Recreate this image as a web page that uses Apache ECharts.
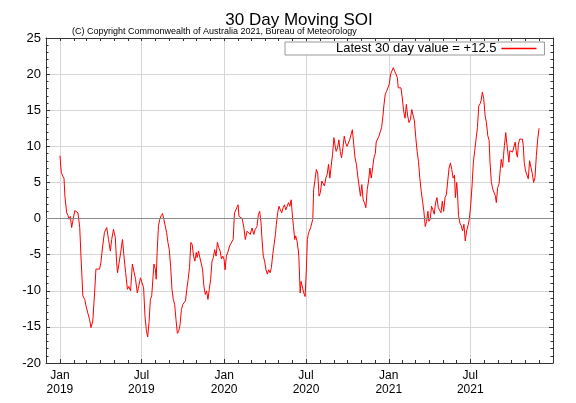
<!DOCTYPE html>
<html><head><meta charset="utf-8">
<script src="https://cdn.jsdelivr.net/npm/echarts@6/dist/echarts.min.js"></script>
<style>html,body{margin:0;padding:0;background:#fff}#c{width:576px;height:403px}</style>
</head><body><div id="c"></div>
<script>
// Days since 2019-01-01 and the 30-day moving SOI
const dayOffsets = [0,3,6,9,11,15,18,20,23,26,29,33,36,40,44,47,51,55,58,62,66,69,73,77,80,84,88,91,95,99,102,104,108,112,115,119,123,126,128,131,135,139,142,146,150,153,157,161,164,168,172,175,179,
182,186,189,192,195,198,201,204,207,209,212,214,216,219,222,225,228,231,234,237,240,243,246,249,252,255,258,261,264,267,270,273,276,279,282,285,288,291,294,297,300,303,305,308,311,314,317,320,323,326,329,332,335,338,341,344,347,350,353,356,359,362,
365,367,370,374,377,381,385,388,391,393,396,398,401,405,409,412,416,420,423,427,431,434,438,441,444,447,449,452,455,458,461,464,467,470,473,476,479,481,484,487,490,493,496,499,502,505,508,511,514,516,519,522,524,527,530,
531,534,536,539,542,545,548,550,552,554,557,560,562,564,567,570,573,576,579,582,585,588,591,594,597,600,603,606,609,612,614,617,620,623,626,629,632,635,638,641,644,647,650,653,656,659,662,665,668,671,674,677,680,683,686,689,692,695,698,701,703,706,709,712,715,718,
720,723,726,729,732,735,738,741,744,747,750,752,755,758,761,764,767,770,773,776,779,782,785,788,791,794,797,800,803,806,809,812,815,818,820,823,826,829,832,835,838,841,844,847,850,853,856,859,862,865,868,871,874,877,
879,882,884,886,889,892,895,898,901,904,907,910,913,916,919,922,925,928,931,934,936,939,942,945,948,951,954,956,959,962,965,968,970,973,976,979,981,984,986,988,991,993,996,998,1000,1003,1006,1009,1012,1015,1017,1019,1022,1025,1028,1030,1032,1035,1038,1041,1044,1047,1050,1053,1056,1059,1062,1065];
const soiValues = [8.7,6.4,5.9,5.6,3.1,0.8,0.4,-0.1,0.3,-1.25,-1.1,1.1,1.2,0.8,-1.25,-5.6,-10.7,-11.2,-12.1,-13.1,-14.0,-15.1,-14.2,-10.3,-7.0,-6.8,-7.0,-6.1,-3.8,-1.9,-1.7,-1.25,-2.9,-4.5,-2.9,-1.5,-2.6,-6.1,-7.5,-6.3,-4.7,-2.9,-5.0,-7.5,-9.8,-9.4,-10.0,-6.3,-6.1,-8.4,-10.3,-9.4,-8.2,
-8.4,-9.6,-13.5,-15.4,-16.4,-14.4,-11.2,-10.7,-8.0,-6.3,-7.0,-8.4,-4.7,-1.0,-0.1,0.4,0.7,-0.1,-1.0,-1.9,-3.3,-4.3,-6.6,-9.8,-11.2,-11.9,-14.0,-15.9,-15.6,-14.7,-12.6,-11.9,-12.1,-11.4,-9.8,-8.4,-6.8,-3.3,-3.6,-5.2,-5.9,-4.7,-5.4,-4.5,-5.4,-5.6,-7.0,-9.35,-10.5,-10.0,-11.2,-9.8,-8.4,-5.9,-5.4,-4.3,-5.2,-3.3,-4.0,-4.5,-5.6,-5.2,
-5.7,-7.1,-5.2,-4.5,-3.8,-3.6,-2.9,0.8,1.2,1.5,1.9,0.3,0.1,0.0,-1.3,-2.9,-1.75,-1.5,-2.2,-1.3,-2.2,-1.5,-1.1,0.55,1.0,-0.6,-2.7,-5.2,-5.9,-7.1,-7.7,-7.1,-7.5,-6.8,-5.0,-3.6,-2.2,-0.8,0.8,1.7,1.2,0.8,1.5,1.9,1.2,1.7,2.2,1.7,2.6,1.0,-1.1,-2.9,-2.4,-3.1,-4.5,
-5.2,-10.3,-8.7,-8.9,-10.3,-10.8,-6.6,-2.9,-2.2,-1.75,-1.3,-1.5,-0.1,4.0,5.4,6.8,6.3,3.1,3.6,5.2,5.4,4.5,5.6,6.1,7.5,5.6,7.3,8.9,11.2,10.0,9.3,9.8,10.9,9.3,8.4,9.8,11.4,10.5,10.0,9.8,10.9,11.6,12.3,10.3,8.4,7.5,5.9,4.5,3.1,4.7,2.6,2.2,1.5,4.0,5.2,7.0,5.6,7.0,8.4,9.0,10.6,10.5,11.4,11.2,12.6,14.2,
15.6,17.2,17.6,17.6,18.6,20.0,20.2,20.9,20.4,20.0,19.5,18.1,18.3,18.1,16.7,14.9,13.9,15.8,14.2,13.3,13.7,15.1,15.3,13.5,11.2,9.3,7.9,5.6,3.8,2.4,1.0,-1.1,-0.4,1.0,-0.4,-0.1,1.7,1.2,0.6,2.2,2.9,1.5,1.7,0.8,2.4,1.0,2.9,3.3,5.2,7.0,7.7,6.8,5.6,6.0,
2.9,5.0,3.1,0.4,-0.6,-1.0,-1.7,-0.8,-3.1,-1.7,-1.0,-0.1,1.8,4.5,7.8,9.4,11.0,12.6,15.6,15.9,16.3,17.5,16.6,14.3,13.3,11.5,10.8,7.8,5.0,4.1,4.3,3.1,2.2,4.3,4.8,6.9,8.2,7.1,8.7,10.1,11.9,10.6,10.8,7.8,9.4,9.6,9.2,9.4,10.6,8.9,8.5,10.3,11.0,10.8,11.0,10.1,7.8,6.6,6.4,5.5,8.0,8.2,6.2,5.0,5.7,8.7,11.0,12.5];

const seriesStart = '2019-01-01';
const axisStart = '2018-12-01';
const axisEnd = '2022-01-01';
const tickDates = ['2019-01-01','2019-07-01','2020-01-01','2020-07-01','2021-01-01','2021-07-01'];
const tickLabels = ['Jan\n2019','Jul\n2019','Jan\n2020','Jul\n2020','Jan\n2021','Jul\n2021'];
const yTicks = [-20, 25, 5];
const chartTitle = '30 Day Moving SOI';
const copyright = '(C) Copyright Commonwealth of Australia 2021, Bureau of Meteorology';
const latestLabel = 'Latest 30 day value = +12.5';

const DAY = 86400000;
function ms(s){ const p = s.split('-'); return Date.UTC(+p[0], +p[1]-1, +p[2]); }
const base = ms(seriesStart);
function toDay(s){ return Math.round((ms(s) - base) / DAY); }
const xMin = toDay(axisStart), xMax = toDay(axisEnd);
const tickDays = tickDates.map(toDay);
const monthDays = [];
for (let y = 2018; y <= 2022; y++) for (let m = 0; m < 12; m++) {
  const d = Math.round((Date.UTC(y, m, 1) - base) / DAY);
  if (d >= xMin && d <= xMax) monthDays.push(d);
}
const font = '"Liberation Sans", Arial, Helvetica, sans-serif';
const axisCol = '#333';
const gridCol = '#d6d6d6';

const chart = echarts.init(document.getElementById('c'));
const xCommon = { type: 'value', min: xMin, max: xMax, gridIndex: 0 };
const yCommon = { type: 'value', min: yTicks[0], max: yTicks[1], interval: yTicks[2] };
chart.setOption({
  animation: false,
  backgroundColor: '#fff',
  title: [
    { text: chartTitle, left: 294, top: 7, textAlign: 'center',
      textStyle: { fontFamily: font, fontSize: 17, fontWeight: 'normal', color: '#000' } },
    { text: copyright, left: 72, top: 27, padding: 0,
      textStyle: { fontFamily: font, fontSize: 9, fontWeight: 'normal', color: '#000' } }
  ],
  legend: {
    data: [latestLabel], left: 285, top: 42, align: 'right',
    padding: [0, 8, 0, 51], borderColor: '#999', borderWidth: 1, backgroundColor: '#fff',
    itemWidth: 35, itemHeight: 1.5, icon: 'rect',
    textStyle: { fontFamily: font, fontSize: 13, color: '#000', lineHeight: 12 }
  },
  grid: { left: 46, right: 23, top: 38, bottom: 40 },
  xAxis: [
    Object.assign({}, xCommon, {
      position: 'bottom',
      axisLine: { show: true, onZero: false, lineStyle: { color: axisCol, width: 1 } },
      axisTick: { show: true, inside: true, length: 4, customValues: tickDays, lineStyle: { color: axisCol } },
      axisLabel: { customValues: tickDays, fontFamily: font, fontSize: 12, lineHeight: 14, color: '#000', margin: 6,
        formatter: function (v) { for (let i = 0; i < tickDays.length; i++) if (Math.abs(tickDays[i] - v) < 0.5) return tickLabels[i]; return ''; } },
      splitLine: { show: true, lineStyle: { color: gridCol, width: 1 } }
    }),
    Object.assign({}, xCommon, {
      position: 'bottom',
      axisLine: { show: false, onZero: false },
      axisTick: { show: true, inside: true, length: 3, customValues: monthDays, lineStyle: { color: axisCol } },
      axisLabel: { show: false }, splitLine: { show: false }
    }),
    Object.assign({}, xCommon, {
      position: 'top',
      axisLine: { show: true, onZero: false, lineStyle: { color: axisCol, width: 1 } },
      axisTick: { show: true, inside: true, length: 3, customValues: monthDays, lineStyle: { color: axisCol } },
      axisLabel: { show: false }, splitLine: { show: false }
    })
  ],
  yAxis: [
    Object.assign({}, yCommon, {
      position: 'left',
      axisLine: { show: true, onZero: false, lineStyle: { color: axisCol, width: 1 } },
      axisTick: { show: true, inside: true, length: 4, lineStyle: { color: axisCol } },
      minorTick: { show: true, splitNumber: 5, length: 2.5, lineStyle: { color: axisCol } },
      axisLabel: { fontFamily: font, fontSize: 13, color: '#000', margin: 5 },
      splitLine: { show: true, lineStyle: { color: gridCol, width: 1 } }
    }),
    Object.assign({}, yCommon, {
      position: 'right',
      axisLine: { show: true, onZero: false, lineStyle: { color: axisCol, width: 1 } },
      axisTick: { show: true, inside: true, length: 4, lineStyle: { color: axisCol } },
      minorTick: { show: true, splitNumber: 5, length: 2.5, lineStyle: { color: axisCol } },
      axisLabel: { show: false }, splitLine: { show: false }
    })
  ],
  series: [
    { name: 'zero', type: 'line', data: [], z: 1, silent: true, xAxisIndex: 0, yAxisIndex: 0,
      markLine: { silent: true, symbol: 'none', animation: false, label: { show: false },
        lineStyle: { color: '#8a8a8a', type: 'solid', width: 1 }, data: [{ yAxis: 0 }] } },
    { name: latestLabel, type: 'line', xAxisIndex: 0, yAxisIndex: 0, z: 3,
      data: dayOffsets.map(function (d, i) { return [d, soiValues[i]]; }),
      showSymbol: false, symbol: 'none',
      lineStyle: { color: '#ff0000', width: 1 }, itemStyle: { color: '#ff0000' } }
  ]
});
</script></body></html>
